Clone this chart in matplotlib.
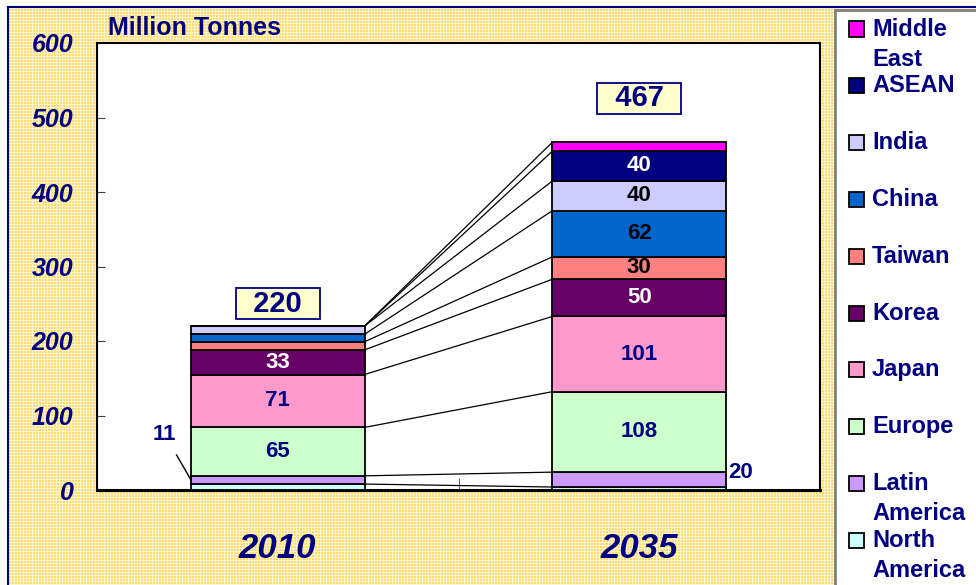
import numpy as np
import matplotlib.pyplot as plt
from matplotlib.patches import Rectangle
from matplotlib.lines import Line2D

plt.rcParams['font.family'] = ['Liberation Sans', 'DejaVu Sans']

# data (Million Tonnes), bottom to top of each stack
regions = ['North America', 'Latin America', 'Europe', 'Japan', 'Korea',
           'Taiwan', 'China', 'India', 'ASEAN', 'Middle East']
legend_names = ['North\nAmerica', 'Latin\nAmerica', 'Europe', 'Japan', 'Korea',
                'Taiwan', 'China', 'India', 'ASEAN', 'Middle\nEast']
colors = ['#CCFFFF', '#CC99FF', '#CCFFCC', '#FF99CC', '#660066',
          '#FF8080', '#0066CC', '#CCCCFF', '#000080', '#FF00FF']
years = ['2010', '2035']
v2010 = [8, 11, 65, 71, 33, 11, 10, 11, 0, 0]
v2035 = [4, 20, 108, 101, 50, 30, 62, 40, 40, 12]
totals = [220, 467]

# which segments carry a value label inside the bar, and in which colour
inner_2010 = {'Europe': '#000080', 'Japan': '#000080', 'Korea': 'white'}
inner_2035 = {'Europe': '#000080', 'Japan': '#000080', 'Korea': 'white',
              'Taiwan': 'black', 'China': 'black', 'India': 'black',
              'ASEAN': 'white'}

NAVY = '#000080'
W, H = 976, 585
fig = plt.figure(figsize=(W / 100, H / 100), dpi=100)


def fx(x):
    return x / W


def fy(y):
    return 1 - y / H


# dotted yellow background
bg = fig.add_axes([0, 0, 1, 1], zorder=0)
ii, jj = np.mgrid[0:H, 0:W]
img = np.ones((H, W, 3))
area = (ii >= 7) & (jj >= 8)
dots = ((ii % 3) < 2) & ((jj % 3) < 2)
img[area] = (1.0, 0.965, 0.82)
img[area & dots] = (1.0, 0.86, 0.42)
bg.imshow(img, aspect='auto', interpolation='nearest', extent=(0, W, H, 0))
bg.set_xlim(0, W)
bg.set_ylim(H, 0)
bg.axis('off')
fig.add_artist(Line2D([fx(8), fx(8)], [fy(7), fy(H)], color=NAVY, lw=1.5,
                      transform=fig.transFigure, zorder=1))
fig.add_artist(Line2D([fx(8), fx(W)], [fy(7), fy(7)], color=NAVY, lw=1.5,
                      transform=fig.transFigure, zorder=1))

# main plot
ax = fig.add_axes([fx(97), fy(490), fx(820) - fx(97), fy(43) - fy(490)], zorder=2)
ax.set_facecolor('white')
x = np.arange(len(years))
w = 0.48
bottoms = np.zeros(len(years))
for k, name in enumerate(regions):
    vals = np.array([v2010[k], v2035[k]], dtype=float)
    ax.bar(x, vals, w, bottom=bottoms, color=colors[k], edgecolor='black',
           linewidth=1.3, zorder=3)
    mids = bottoms + vals / 2
    for j, inner in enumerate([inner_2010, inner_2035]):
        if name in inner:
            ax.text(x[j], mids[j], str(int(vals[j])), ha='center', va='center',
                    color=inner[name], fontsize=16, fontweight='bold', zorder=4)
    bottoms = bottoms + vals
    # series lines joining the two stacks
    ax.plot([x[0] + w / 2, x[1] - w / 2], bottoms, color='black', lw=0.9, zorder=2)

# total boxes
box = dict(boxstyle='square,pad=0.05', fc='#FFFFCC', ec=NAVY, lw=1.3)
ax.text(x[0], totals[0] + 30, '  %d  ' % totals[0], ha='center', va='center',
        color=NAVY, fontsize=21, fontweight='bold', zorder=5, bbox=box)
ax.text(x[1], totals[1] + 59, '  %d  ' % totals[1], ha='center', va='center',
        color=NAVY, fontsize=21, fontweight='bold', zorder=5, bbox=box)

# Latin America labels outside the bars
lat0 = v2010[0] + v2010[1] / 2
ax.plot([x[0] - w / 2 - 0.04, x[0] - w / 2], [47, lat0], color='black', lw=1, zorder=4)
ax.text(x[0] - w / 2 - 0.075, 74, str(v2010[1]), ha='center', va='center',
        color=NAVY, fontsize=16, fontweight='bold')
ax.text(x[1] + w / 2 + 0.006, v2035[0] + v2035[1], str(v2035[1]), ha='left',
        va='center', color=NAVY, fontsize=16, fontweight='bold')

ax.set_xlim(-0.5, 1.5)
ax.set_ylim(0, 600)
ax.set_yticks(np.arange(0, 601, 100))
ax.set_xticks(x, years)
ax.set_xticks([0.5], minor=True)
ax.tick_params(axis='y', direction='in', length=6, color='#404040', pad=17,
               labelsize=18, labelcolor=NAVY)
ax.tick_params(axis='x', which='major', length=0, pad=30, labelsize=25,
               labelcolor=NAVY)
ax.tick_params(axis='x', which='minor', direction='in', length=9, color='#404040')
for lab in ax.get_yticklabels() + ax.get_xticklabels():
    lab.set_fontweight('bold')
    lab.set_fontstyle('italic')
for s in ax.spines.values():
    s.set_color('black')
    s.set_linewidth(1.5)
ax.spines['bottom'].set_linewidth(2.2)

fig.text(fx(108), fy(28), 'Million Tonnes', ha='left', va='center',
         color=NAVY, fontsize=18, fontweight='bold')

# legend box drawn by hand (multi-line labels)
fig.add_artist(Rectangle((fx(835), fy(600)), fx(1000) - fx(835), fy(10) - fy(600),
                         transform=fig.transFigure, fc='white', ec='#808080',
                         lw=2, zorder=1))
for i, k in enumerate(range(len(regions) - 1, -1, -1)):
    yc = 29 + i * 56.8
    fig.add_artist(Rectangle((fx(849), fy(yc + 7.5)), 15 / W, 15 / H,
                             transform=fig.transFigure, fc=colors[k],
                             ec='black', lw=1.3, zorder=3))
    for n, line in enumerate(legend_names[k].split('\n')):
        fig.text(fx(872), fy(yc + 30 * n), line, ha='left', va='center',
                 color=NAVY, fontsize=17, fontweight='bold', zorder=3)

fig.savefig('out.png', dpi=100)
